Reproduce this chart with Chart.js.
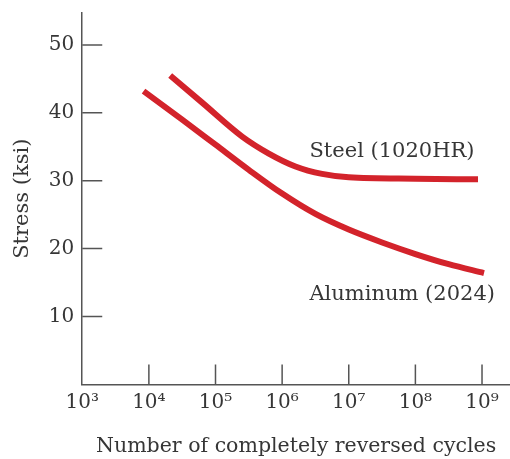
<!DOCTYPE html>
<html>
<head>
<meta charset="utf-8">
<script src="https://cdn.jsdelivr.net/npm/chart.js@4.4.1/dist/chart.umd.min.js"></script>
<style>
  html, body { margin: 0; padding: 0; background: #fff; }
  #wrap { width: 510px; height: 459px; }
</style>
</head>
<body>
<div id="wrap"><canvas id="myChart"></canvas></div>
<script>
// x values are log10 of the number of cycles
const steelExp = [4.32, 4.8, 5.4, 5.8, 6.2, 6.6, 7.0, 8.0, 8.94];
const steelStress = [45.5, 41.5, 36.5, 34.0, 32.1, 31.0, 30.5, 30.3, 30.2];
const alumExp = [3.92, 4.5, 5.0, 5.5, 6.0, 6.5, 7.0, 7.5, 8.0, 8.5, 9.03];
const alumStress = [43.2, 39.0, 35.3, 31.6, 28.1, 25.1, 22.8, 20.9, 19.2, 17.7, 16.4];
const xTicks = [3, 4, 5, 6, 7, 8, 9];
const yTicks = [10, 20, 30, 40, 50];
const labelNotes = [
  { text: "Steel (1020HR)", x: 6.41, y: 34.3 },
  { text: "Aluminum (2024)", x: 6.41, y: 13.3 },
];

const sup = { 3: "³", 4: "⁴", 5: "⁵", 6: "⁶", 7: "⁷", 8: "⁸", 9: "⁹" };
const red = "#d3232b";
const textColor = "#363636";
const axisColor = "#555555";
const fontFamily = "'DejaVu Serif', serif";

function toPoints(xs, ys) {
  return xs.map((x, i) => ({ x: x, y: ys[i] }));
}

// ticks on this chart point inward, so draw them here
const innerTicks = {
  id: "innerTicks",
  afterDraw: (chart) => {
    const { ctx, scales, chartArea } = chart;
    ctx.save();
    ctx.strokeStyle = axisColor;
    ctx.lineWidth = 1.5;
    ctx.beginPath();
    xTicks.forEach((v) => {
      if (v == 3) return;
      const px = scales.x.getPixelForValue(v);
      ctx.moveTo(px, chartArea.bottom);
      ctx.lineTo(px, chartArea.bottom - 20);
    });
    yTicks.forEach((v) => {
      const py = scales.y.getPixelForValue(v);
      ctx.moveTo(chartArea.left, py);
      ctx.lineTo(chartArea.left + 20, py);
    });
    ctx.stroke();

    ctx.fillStyle = textColor;
    ctx.font = "21px " + fontFamily;
    ctx.textBaseline = "middle";
    ctx.textAlign = "left";
    labelNotes.forEach((n) => {
      ctx.fillText(n.text, scales.x.getPixelForValue(n.x), scales.y.getPixelForValue(n.y));
    });
    ctx.restore();
  },
};

Chart.defaults.font.family = fontFamily;
Chart.defaults.color = textColor;

const ctx = document.getElementById("myChart");

var chart = new Chart(ctx, {
  type: "line",
  data: {
    datasets: [
      {
        label: "Steel (1020HR)",
        data: toPoints(steelExp, steelStress),
        borderColor: red,
        borderWidth: 6,
        pointRadius: 0,
        cubicInterpolationMode: "monotone",
        borderCapStyle: "butt",
      },
      {
        label: "Aluminum (2024)",
        data: toPoints(alumExp, alumStress),
        borderColor: red,
        borderWidth: 6,
        pointRadius: 0,
        cubicInterpolationMode: "monotone",
        borderCapStyle: "butt",
      },
    ],
  },
  options: {
    responsive: true,
    maintainAspectRatio: false,
    animation: false,
    layout: { padding: { top: 13, right: 0, left: 9.6, bottom: 0 } },
    plugins: {
      legend: { display: false },
      tooltip: { enabled: false },
    },
    scales: {
      x: {
        type: "linear",
        min: 3,
        max: 9.42,
        grid: { display: false, drawTicks: false },
        border: { display: true, color: axisColor, width: 1.5 },
        ticks: {
          stepSize: 1,
          includeBounds: false,
          autoSkip: false,
          maxRotation: 0,
          padding: 6,
          font: { size: 20 },
          color: textColor,
          callback: (v) => "10" + sup[v],
        },
        title: {
          display: true,
          text: "Number of completely reversed cycles",
          font: { size: 20.5 },
          color: textColor,
          padding: { top: 14, bottom: 0 },
        },
      },
      y: {
        min: 0,
        max: 54.7,
        grid: { display: false, drawTicks: false },
        border: { display: true, color: axisColor, width: 1.5 },
        ticks: {
          stepSize: 10,
          includeBounds: false,
          padding: 8,
          font: { size: 20 },
          color: textColor,
          callback: (v) => (v == 0 ? "" : v),
        },
        title: {
          display: true,
          text: "Stress (ksi)",
          font: { size: 21 },
          color: textColor,
          padding: { top: 0, bottom: 6 },
        },
        // the top label sits well below the axis end, no room needed for it
        afterFit: (scale) => {
          scale.paddingTop = 0;
        },
      },
    },
  },
  plugins: [innerTicks],
});
</script>
</body>
</html>
